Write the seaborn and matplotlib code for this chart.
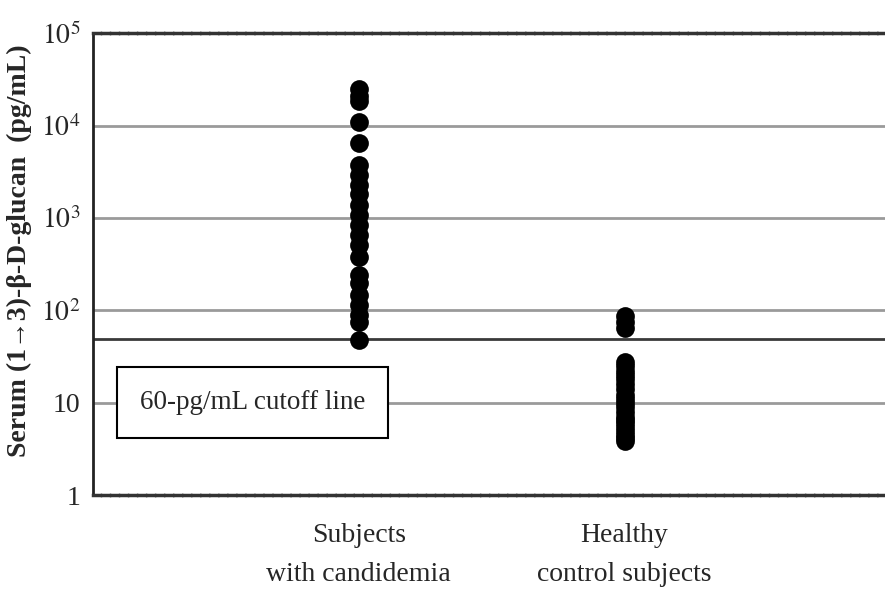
import matplotlib
matplotlib.use("Agg")
import matplotlib.pyplot as plt
import matplotlib.ticker as mticker
import seaborn as sns
import pandas as pd

# values (pg/mL)
candidemia = [25000, 21000, 18500, 11000, 6500, 3700, 2900, 2250, 1800, 1380,
              1070, 830, 650, 510, 380, 240, 196, 145, 114, 89, 74, 48]
healthy = [88, 75, 64, 27.5, 25, 22, 20, 18, 16, 14, 12, 11, 10, 9, 8, 7,
           6.5, 6, 5.5, 5, 4.5, 4.2, 3.9]
groups = ["Subjects\nwith candidemia", "Healthy\ncontrol subjects"]
cutoff = 49
cutoff_label = "60-pg/mL cutoff line"
y_ticks = [1, 10, 100, 1000, 10000, 100000]
y_ticklabels = ["1", "10", "$10^2$", "$10^3$", "$10^4$", "$10^5$"]

df = pd.DataFrame({
    "group": [groups[0]] * len(candidemia) + [groups[1]] * len(healthy),
    "value": candidemia + healthy,
})

sns.set_style("white")
plt.rcParams["font.family"] = ["Liberation Serif", "DejaVu Serif"]
plt.rcParams["mathtext.fontset"] = "stix"

fig = plt.figure(figsize=(8.85, 5.93), dpi=100)
ax = fig.add_axes([0.105, 0.165, 0.895, 0.779])

sns.stripplot(data=df, x="group", y="value", order=groups, jitter=False,
              color="black", size=13.5, ax=ax, zorder=3)

ax.set_yscale("log")
ax.set_ylim(1, 100000)
ax.set_xlim(-1.0, 1.98)

for t in y_ticks[1:-1]:
    ax.axhline(t, color="#9a9a9a", lw=2, zorder=1)
ax.axhline(cutoff, color="#3a3a3a", lw=2, zorder=1)

ax.text(-0.40, 10, cutoff_label, fontsize=19.5, ha="center", va="center",
        zorder=4,
        bbox=dict(boxstyle="square,pad=0.85", fc="white", ec="black", lw=1.5))

ax.set_yticks(y_ticks)
ax.set_yticklabels(y_ticklabels)
ax.yaxis.set_minor_locator(mticker.LogLocator(base=10, subs=range(2, 10)))
ax.yaxis.set_minor_formatter(mticker.NullFormatter())
ax.tick_params(axis="y", which="major", direction="in", length=7, width=1.2,
               labelsize=20, pad=9)
ax.tick_params(axis="y", which="minor", direction="in", length=5, width=1)
ax.tick_params(axis="x", length=0, labelsize=20, pad=20)
for lab in ax.get_xticklabels():
    lab.set_linespacing(1.75)

ax.set_xlabel("")
ylab = ax.set_ylabel("Serum (1\u21923)-\u03b2-D-glucan  (pg/mL)", fontsize=20,
                     fontweight="bold")
ylab.set_va("center")
ax.yaxis.set_label_coords(-0.093, 0.53)

ax.spines["right"].set_visible(False)
ax.spines["left"].set_linewidth(2)
ax.spines["left"].set_color("#222222")
for s in ["top", "bottom"]:
    ax.spines[s].set_linewidth(2.5)
    ax.spines[s].set_color("#333333")
    ax.spines[s].set_linestyle((0, (2, 0.6)))

fig.savefig("out.png", dpi=100)
